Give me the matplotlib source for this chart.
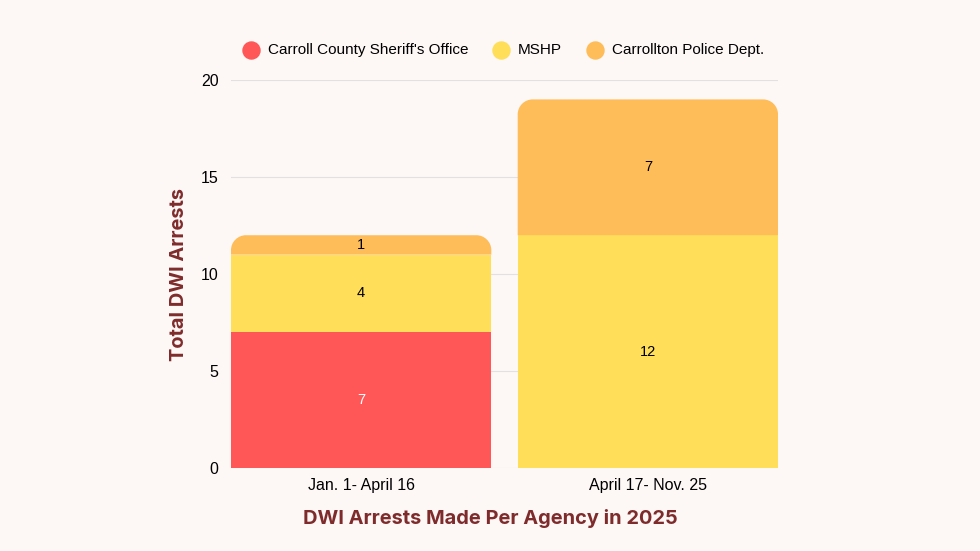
import matplotlib.pyplot as plt
from matplotlib.path import Path
from matplotlib.patches import PathPatch
import numpy as np

plt.rcParams['font.family'] = ['Liberation Sans', 'DejaVu Sans']

periods = ['Jan. 1- April 16', 'April 17- Nov. 25']
agencies = ["Carroll County Sheriff's Office", 'MSHP', 'Carrollton Police Dept.']
sheriff = [7, 0]
mshp = [4, 12]
carrollton = [1, 7]
series = [sheriff, mshp, carrollton]
colors = ['#FF5757', '#FFDE59', '#FFBD59']
label_colors = ['white', 'black', 'black']

bg = '#FDF7F6'
dark_red = '#7E2B2B'
width = 0.908

fig = plt.figure(figsize=(9.8, 5.51), dpi=100, facecolor=bg)
ax = fig.add_axes([0.2357, 0.1506, 0.5582, 0.7042], facecolor=bg)
ax.set_xlim(-0.454, 1.454)
ax.set_ylim(0, 20)


def rounded_top(ax, x0, x1, y0, y1, r_px, color):
    # convert pixel radius into data units on each axis
    bbox = ax.get_window_extent()
    xl, yl = ax.get_xlim(), ax.get_ylim()
    rx = r_px * (xl[1] - xl[0]) / bbox.width
    ry = min(r_px * (yl[1] - yl[0]) / bbox.height, y1 - y0)
    k = 0.5523
    verts = [(x0, y0), (x0, y1 - ry),
             (x0, y1 - ry + k * ry), (x0 + rx - k * rx, y1), (x0 + rx, y1),
             (x1 - rx, y1),
             (x1 - rx + k * rx, y1), (x1, y1 - ry + k * ry), (x1, y1 - ry),
             (x1, y0), (x0, y0)]
    codes = [Path.MOVETO, Path.LINETO,
             Path.CURVE4, Path.CURVE4, Path.CURVE4,
             Path.LINETO,
             Path.CURVE4, Path.CURVE4, Path.CURVE4,
             Path.LINETO, Path.CLOSEPOLY]
    ax.add_patch(PathPatch(Path(verts, codes), facecolor=color, edgecolor='none', zorder=2))


x = np.arange(len(periods))
bottom = np.zeros(len(periods))
totals = np.sum(series, axis=0)
for vals, col, lc, name in zip(series, colors, label_colors, agencies):
    for i, v in enumerate(vals):
        if v == 0:
            continue
        top = bottom[i] + v
        if top == totals[i]:
            rounded_top(ax, x[i] - width / 2, x[i] + width / 2, bottom[i], top, 15, col)
        else:
            ax.bar(x[i], v, width, bottom=bottom[i], color=col, zorder=2)
        ax.text(x[i], bottom[i] + v / 2, str(v), ha='center', va='center',
                fontsize=10.5, color=lc, zorder=3)
    bottom += np.array(vals)
    ax.scatter([], [], s=150, color=col, label=name)

ax.set_yticks([0, 5, 10, 15, 20])
ax.yaxis.grid(True, color='#E2E0E0', linewidth=0.8, zorder=0)
ax.set_axisbelow(True)
for s in ax.spines.values():
    s.set_visible(False)
ax.tick_params(length=0, labelsize=11.5, pad=9)
ax.tick_params(axis='x', pad=7)
ax.set_xticks(x)
ax.set_xticklabels(periods)

ax.set_ylabel('Total DWI Arrests', family=['Inter', 'DejaVu Sans'], fontweight='bold',
              fontsize=14.4, color=dark_red, labelpad=9)
fig.text(490 / 980, 1 - 519 / 551, 'DWI Arrests Made Per Agency in 2025',
         family=['Inter', 'DejaVu Sans'], fontweight='bold', fontsize=14.4,
         color=dark_red, ha='center', va='center')

fig.legend(loc='center', bbox_to_anchor=(0.51, 0.909), ncol=3, frameon=False,
           fontsize=11, handletextpad=0.1, columnspacing=1.15, scatterpoints=1)

fig.savefig('out.png', dpi=100, facecolor=bg)
